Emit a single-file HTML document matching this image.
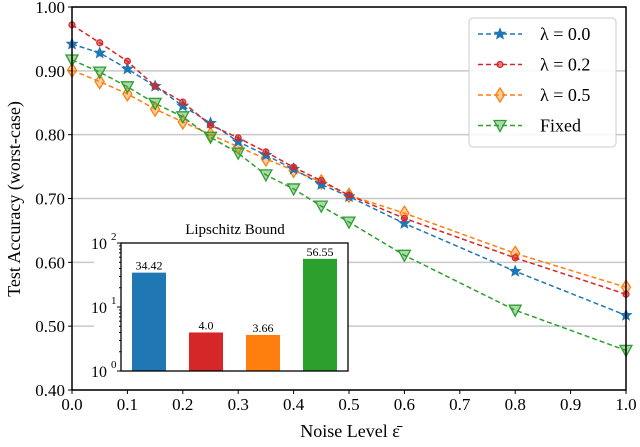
<!DOCTYPE html>
<html><head><meta charset="utf-8"><style>
body{margin:0;background:#fff}
svg{font-family:"Liberation Serif","DejaVu Serif",serif}
</style></head><body>
<svg id="c" width="640" height="442" viewBox="0 0 640 442"></svg>
<script>
const xs=[0,0.05,0.1,0.15,0.2,0.25,0.3,0.35,0.4,0.45,0.5,0.6,0.8,1.0];
const lam00=[0.942,0.928,0.903,0.876,0.845,0.818,0.789,0.768,0.746,0.722,0.703,0.661,0.586,0.517];
const lam02=[0.972,0.944,0.915,0.876,0.851,0.815,0.795,0.773,0.749,0.728,0.705,0.669,0.607,0.550];
const lam05=[0.901,0.883,0.864,0.840,0.820,0.800,0.781,0.762,0.744,0.726,0.705,0.677,0.614,0.561];
const fixed=[0.917,0.898,0.875,0.849,0.828,0.796,0.771,0.737,0.715,0.688,0.663,0.611,0.525,0.462];
const yTicks=[0.4,0.5,0.6,0.7,0.8,0.9,1.0];
const xTicks=[0,0.1,0.2,0.3,0.4,0.5,0.6,0.7,0.8,0.9,1.0];
const barLabels=["34.42","4.0","3.66","56.55"];
const barVals=[34.42,4.0,3.66,56.55];
const colors={b:"#1f77b4",r:"#d62728",o:"#ff7f0e",g:"#2ca02c"};
const svg=document.getElementById('c');
const NS="http://www.w3.org/2000/svg";
const L=72,R=626,T=7,B=390;
const X=v=>L+(v-0)/(1.0)*(R-L);
const Y=v=>B-(v-0.4)/0.6*(B-T);
function mk(tag,attrs,parent){const e=document.createElementNS(NS,tag);for(const k in attrs)e.setAttribute(k,attrs[k]);(parent||svg).appendChild(e);return e;}
yTicks.forEach(t=>{const l=mk('line',{x1:L,x2:R,y1:Y(t),y2:Y(t),stroke:'#c8c8c8','stroke-width':1.5});


mk('line',{x1:L-4,x2:L,y1:Y(t),y2:Y(t),stroke:'#000'});
const tx=mk('text',{x:L-7,y:Y(t)+6,'text-anchor':'end','font-size':17});tx.textContent=t.toFixed(2);

});
xTicks.forEach(t=>{mk('line',{x1:X(t),x2:X(t),y1:B,y2:B+4,stroke:'#000'});
const tx=mk('text',{x:X(t),y:B+20,'text-anchor':'middle','font-size':17});tx.textContent=t.toFixed(1);

});
let t1=mk('text',{x:350,y:437,'text-anchor':'middle','font-size':18});t1.textContent='Noise Level ε̄';


let t2=mk('text',{x:0,y:0,'text-anchor':'middle','font-size':18,transform:'translate(20,199) rotate(-90)'});t2.textContent='Test Accuracy (worst-case)';


function marker(type,x,y,c,g){
 if(type==='star'){let p=[];for(let i=0;i<10;i++){const r=i%2?2.4:5.5,a=-Math.PI/2+i*Math.PI/5;p.push((x+r*Math.cos(a)).toFixed(1)+','+(y+r*Math.sin(a)).toFixed(1));}mk('polygon',{points:p.join(' '),fill:c,stroke:c,'stroke-width':1},g);}
 else if(type==='circle')mk('circle',{cx:x,cy:y,r:3,fill:c,'fill-opacity':0.6,stroke:c,'stroke-width':1.2},g);
 else if(type==='diamond')mk('polygon',{points:`${x},${y-7} ${x+4.5},${y} ${x},${y+7} ${x-4.5},${y}`,fill:c,'fill-opacity':0.4,stroke:c,'stroke-width':1.3},g);
 else mk('polygon',{points:`${x-6},${y-5} ${x+6},${y-5} ${x},${y+6}`,fill:c,'fill-opacity':0.4,stroke:c,'stroke-width':1.3},g);
}
const series=[[lam05,colors.o,'diamond','series-lambda-0.5'],[lam00,colors.b,'star','series-lambda-0.0'],[lam02,colors.r,'circle','series-lambda-0.2'],[fixed,colors.g,'tri','series-fixed']];
series.forEach(s=>{const g=mk('g',{});


mk('polyline',{points:xs.map((x,i)=>X(x)+','+Y(s[0][i])).join(' '),fill:'none',stroke:s[1],'stroke-width':1.5,'stroke-dasharray':'5,3'},g);
xs.forEach((x,i)=>marker(s[2],X(x),Y(s[0][i]),s[1],g));});
mk('rect',{x:L,y:T,width:R-L,height:B-T,fill:'none',stroke:'#000','stroke-width':1.5});
const lg=mk('g',{});


mk('rect',{x:469,y:18,width:147,height:129,rx:4,fill:'#fff','fill-opacity':0.85,stroke:'#ccc'},lg);
[['λ = 0.0',colors.b,'star'],['λ = 0.2',colors.r,'circle'],['λ = 0.5',colors.o,'diamond'],['Fixed',colors.g,'tri']].forEach((e,i)=>{const y=34+i*30.5;const eg=mk('g',{},lg);


mk('line',{x1:478,x2:522,y1:y,y2:y,stroke:e[1],'stroke-width':1.5,'stroke-dasharray':'5,3'},eg);marker(e[2],500,y,e[1],eg);
const t=mk('text',{x:540,y:y+6,'font-size':18},eg);t.textContent=e[0];});
const ig=mk('g',{});


const iL=121,iR=348,iT=243,iB=371;
const IY=v=>iB-Math.log10(v)/2*(iB-iT);
mk('rect',{x:94,y:iT-6,width:iR-94,height:iB-iT+12,fill:'#fff'},ig);
const bc=[colors.b,colors.r,colors.o,colors.g];const bx=[132,189,246,303];
barVals.forEach((v,i)=>{const r=mk('rect',{x:bx[i],y:IY(v),width:34,height:iB-IY(v),fill:bc[i]},ig);


const t=mk('text',{x:bx[i]+17,y:IY(v)-3,'text-anchor':'middle','font-size':12},ig);t.textContent=barLabels[i];});
mk('rect',{x:iL,y:iT,width:iR-iL,height:iB-iT,fill:'none',stroke:'#000','stroke-width':1.3},ig);
[0,1,2].forEach(k=>{const y=IY(Math.pow(10,k));mk('line',{x1:iL-4,x2:iL,y1:y,y2:y,stroke:'#000'},ig);
const t=mk('text',{x:iL-22,y:y+6,'text-anchor':'middle','font-size':16},ig);t.textContent='10';
const s=mk('text',{x:iL-10,y:y-3,'font-size':11},ig);s.textContent=String(k);
if(k<2)for(let m=2;m<10;m++){const yy=IY(m*Math.pow(10,k));mk('line',{x1:iL-2,x2:iL,y1:yy,y2:yy,stroke:'#000'},ig);}});
const it=mk('text',{x:235,y:234,'text-anchor':'middle','font-size':15},ig);it.textContent='Lipschitz Bound';


</script>
</body></html>
